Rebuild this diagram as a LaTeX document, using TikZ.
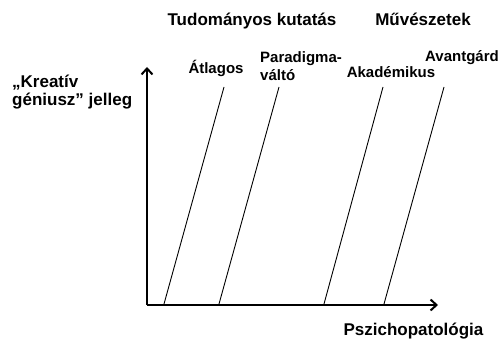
\documentclass[tikz,border=0pt]{standalone}
\usepackage{fontspec}
\setmainfont{Liberation Sans}
\usetikzlibrary{arrows.meta}
\begin{document}
\begin{tikzpicture}[x=1pt,y=1pt,
  big/.style={inner sep=0pt,font=\fontsize{17}{18}\selectfont\bfseries},
  small/.style={inner sep=0pt,font=\fontsize{15}{17}\selectfont\bfseries},
  axis/.style={line width=2pt,-{Straight Barb[length=6pt,width=11pt,line width=2pt]}},
  slant/.style={line width=0.9pt}]
\useasboundingbox (0,0) rectangle (500,338);
% axes
\coordinate (o) at (147,33);
\coordinate (ytop) at (147,271);
\coordinate (xend) at (438,33);
\draw[axis] (o) -- (ytop);
\draw[axis] (o) -- (xend);
% slanted lines
\coordinate (a1) at (164,34); \coordinate (b1) at (224,251);
\coordinate (a2) at (219,34); \coordinate (b2) at (279,251);
\coordinate (a3) at (324,34); \coordinate (b3) at (383,251);
\coordinate (a4) at (384,34); \coordinate (b4) at (444,251);
\draw[slant] (a1) -- (b1);
\draw[slant] (a2) -- (b2);
\draw[slant] (a3) -- (b3);
\draw[slant] (a4) -- (b4);
% titles
\node[big,anchor=base] (t1) at (252,312) {Tudományos kutatás};
\node[big,anchor=base] (t2) at (423,312) {Művészetek};
% axis labels
\node[big,anchor=base west] (y1) at (12,251) {„Kreatív};
\node[big,anchor=base west] (y2) at (12,233) {géniusz” jelleg};
\node[big,anchor=base] (xl) at (413.5,3) {Pszichopatológia};
% line labels
\node[small,anchor=base] (l1) at (216,265) {Átlagos};
\node[small,anchor=base west] (l2a) at (260,275) {Paradigma-};
\node[small,anchor=base west] (l2b) at (260,258) {váltó};
\node[small,anchor=base] (l3) at (391,260) {Akadémikus};
\node[small,anchor=base east] (l4) at (499,276) {Avantgárd};
\end{tikzpicture}
\end{document}
